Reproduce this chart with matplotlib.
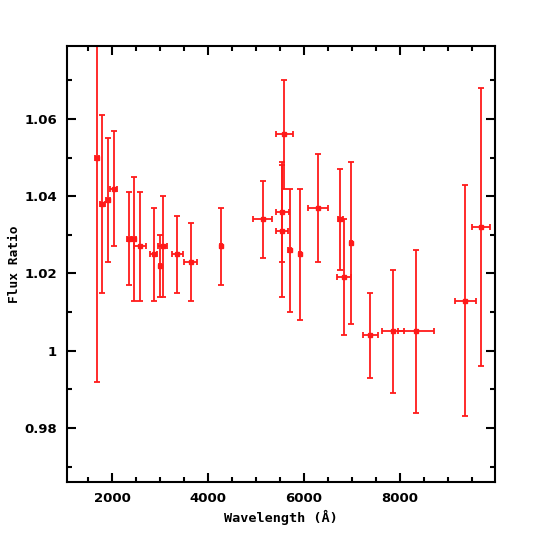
import numpy as np
import matplotlib
matplotlib.use("Agg")
import matplotlib.pyplot as plt
from matplotlib.ticker import MultipleLocator, FuncFormatter

# flux ratio vs wavelength
wavelength = [1681, 1792, 1904, 2029, 2348, 2452, 2584, 2869, 2994, 3056,
              3354, 3640, 4271, 5140, 5549, 5549, 5591, 5702, 5925, 6292,
              6758, 6833, 6988, 7390, 7854, 8340, 9369, 9696]
wave_err = [40, 50, 40, 80, 40, 40, 130, 70, 25, 97,
            115, 140, 25, 191, 132, 120, 174, 25, 25, 208,
            50, 142, 25, 163, 226, 368, 219, 191]
ratio = [1.050, 1.038, 1.039, 1.042, 1.029, 1.029, 1.027, 1.025, 1.022, 1.027,
         1.025, 1.023, 1.027, 1.034, 1.036, 1.031, 1.056, 1.026, 1.025, 1.037,
         1.034, 1.019, 1.028, 1.004, 1.005, 1.005, 1.013, 1.032]
ratio_err = [0.058, 0.023, 0.016, 0.015, 0.012, 0.016, 0.014, 0.012, 0.008, 0.013,
             0.010, 0.010, 0.010, 0.010, 0.013, 0.017, 0.014, 0.016, 0.017, 0.014,
             0.013, 0.015, 0.021, 0.011, 0.016, 0.021, 0.030, 0.036]

fig = plt.figure(figsize=(5.4, 5.4), dpi=100)
ax = fig.add_axes([0.1235, 0.1074, 0.7932, 0.808])

ax.errorbar(wavelength, ratio, xerr=wave_err, yerr=ratio_err, fmt='s',
            color='#ff1a1a', ms=3.5, elinewidth=1.3, capsize=2, capthick=1.3)

ax.set_xlim(1050, 9990)
ax.set_ylim(0.966, 1.079)

ax.xaxis.set_major_locator(MultipleLocator(2000))
ax.xaxis.set_minor_locator(MultipleLocator(500))
ax.yaxis.set_major_locator(MultipleLocator(0.02))
ax.yaxis.set_minor_locator(MultipleLocator(0.01))
ax.yaxis.set_major_formatter(FuncFormatter(lambda v, p: '{:g}'.format(round(v, 4))))

ax.tick_params(which='both', direction='in', top=True, right=True, width=1.5)
ax.tick_params(which='major', length=6.5, pad=7)
ax.tick_params(which='minor', length=3.6)
for lab in ax.get_xticklabels() + ax.get_yticklabels():
    lab.set_family('DejaVu Sans')
    lab.set_fontweight('bold')
    lab.set_fontsize(9.5)
for sp in ax.spines.values():
    sp.set_linewidth(1.5)

ax.set_xlabel('Wavelength (Å)', family='DejaVu Sans Mono', fontweight='bold',
              fontsize=9.7, labelpad=4)
ax.set_ylabel('Flux Ratio', family='DejaVu Sans Mono', fontweight='bold',
              fontsize=9.3, labelpad=2)

fig.savefig('out.png', dpi=100)
